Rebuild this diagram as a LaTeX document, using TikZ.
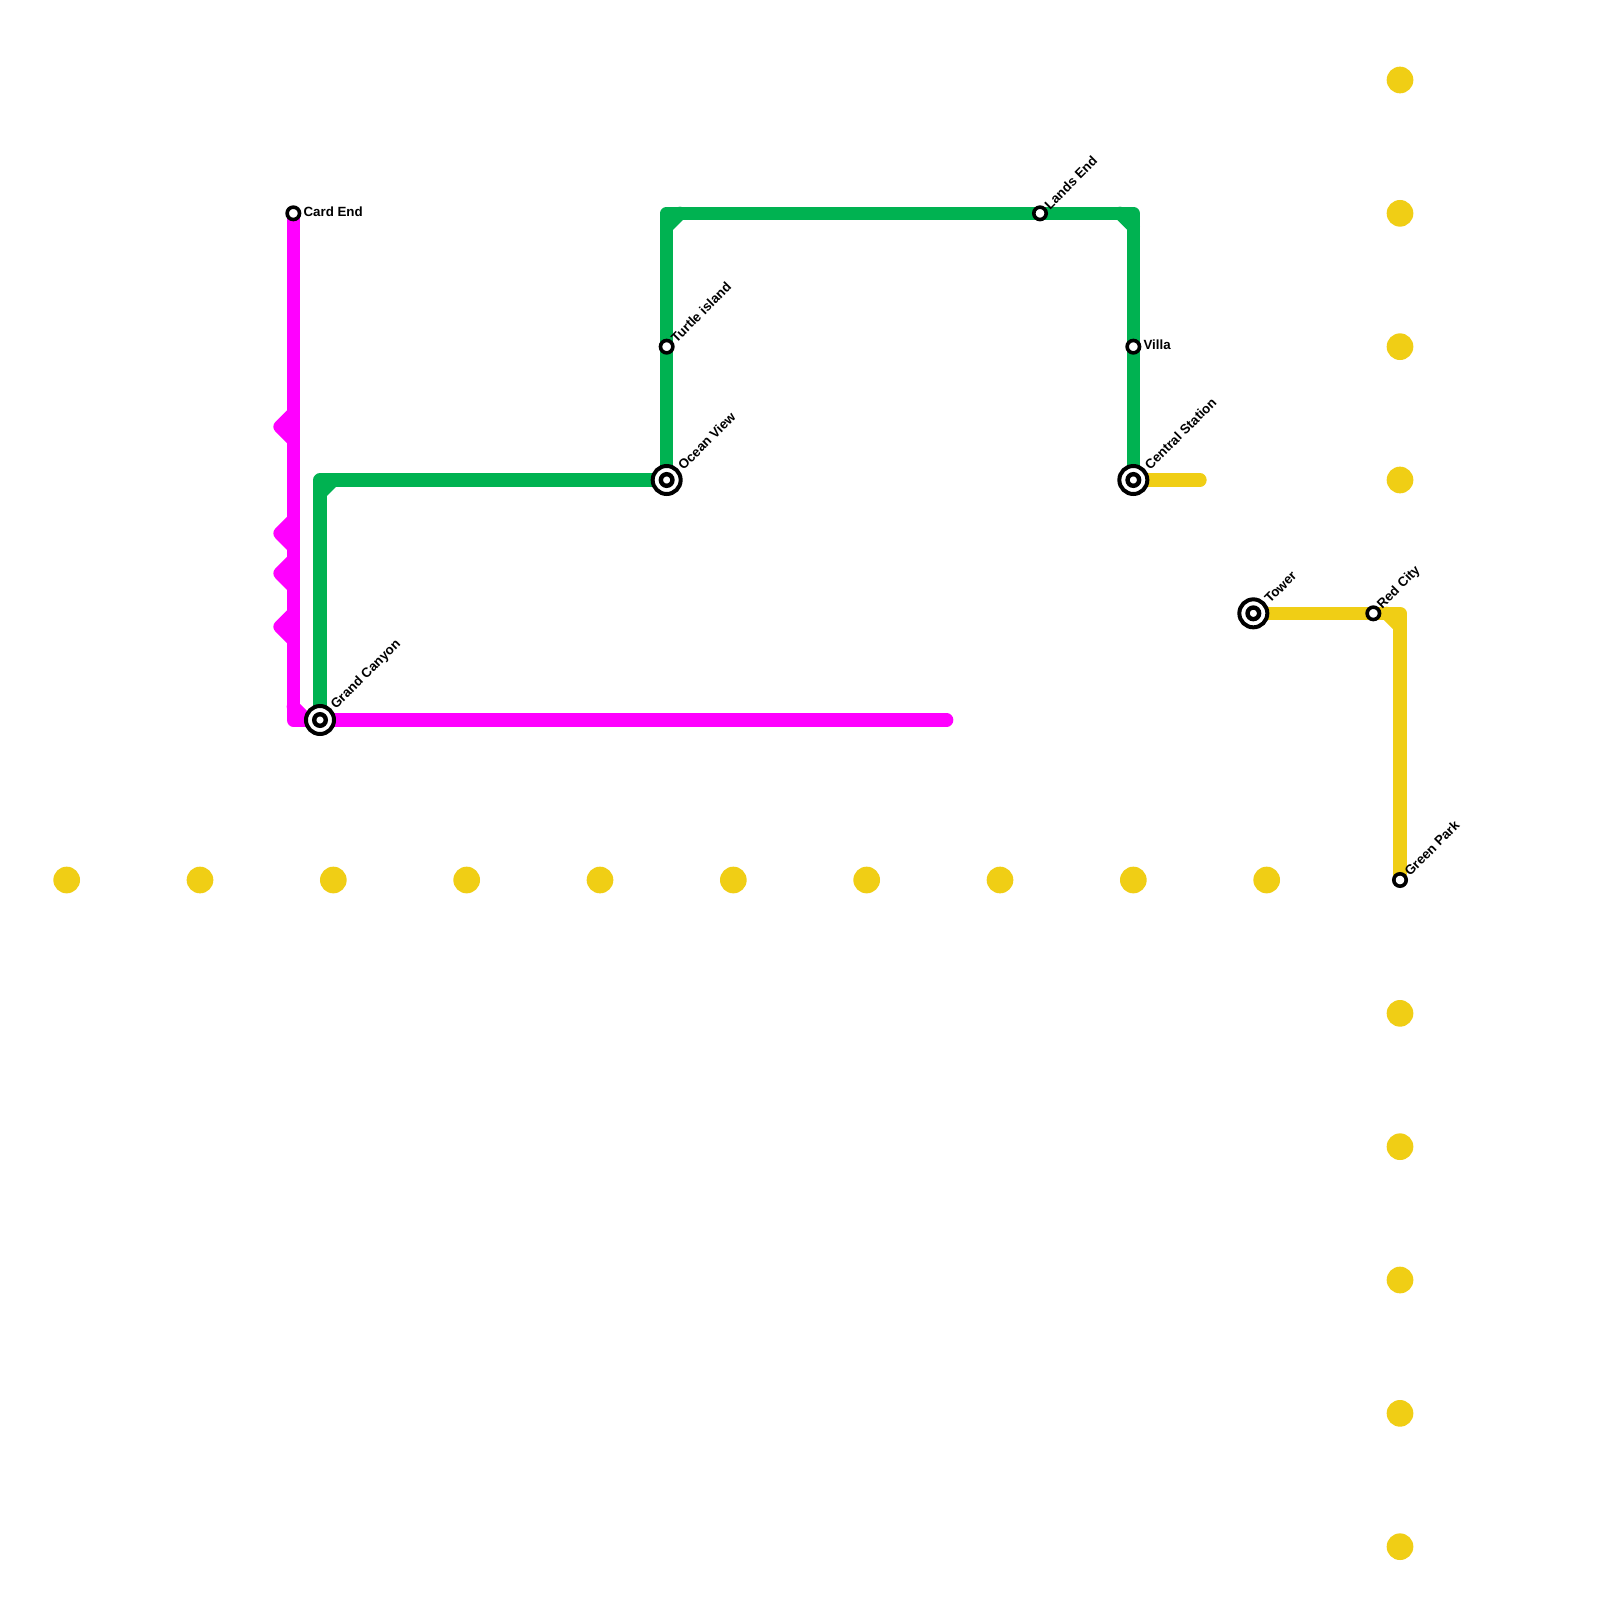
\documentclass[tikz,border=0pt]{standalone}
\usepackage{fontspec}
\setmainfont{Liberation Sans}
\definecolor{mag}{HTML}{FF00FF}
\definecolor{grn}{HTML}{00B251}
\definecolor{yel}{HTML}{F0CE15}
\tikzset{
  x=1pt,y=-1pt,
  route/.style={line width=13.33pt,line cap=round,line join=round},
  dotmark/.style={circle,fill=yel,draw=none,minimum size=26.67pt,inner sep=0pt,outer sep=0pt},
  smallstn/.style={circle,fill=white,draw=black,line width=3.6pt,minimum size=12.4pt,inner sep=0pt,outer sep=0pt},
  bigstn/.style={circle,fill=white,draw=black,line width=4pt,minimum size=28pt,inner sep=0pt,outer sep=0pt},
  bighole/.style={circle,fill=white,draw=black,line width=4.4pt,minimum size=11.6pt,inner sep=0pt,outer sep=0pt},
  lab/.style={font=\bfseries\fontsize{13.33}{13.33}\selectfont,text=black,inner sep=0pt,anchor=west},
  labflat/.style={lab,xshift=10pt,yshift=1.5pt},
  labsmall/.style={lab,xshift=6.5pt,yshift=6.5pt,rotate=45},
  labbig/.style={lab,xshift=13.5pt,yshift=12.5pt,rotate=45}
}
\begin{document}
\begin{tikzpicture}
\useasboundingbox (0,0) rectangle (1600,1600);
\fill[white] (0,0) rectangle (1600,1600);
% background dots
\foreach \n/\px in {a/66.67,b/200,c/333.33,d/466.67,e/600,f/733.33,g/866.67,h/1000,i/1133.33,j/1266.67}
  \node[dotmark] (dh\n) at (\px,880) {};
\foreach \n/\py in {a/80,b/213.33,c/346.67,d/480,e/1013.33,f/1146.67,g/1280,h/1413.33,i/1546.67}
  \node[dotmark] (dv\n) at (1400,\py) {};
% coordinates
\coordinate (cardend) at (293.33,213.33);
\coordinate (grand) at (320,720);
\coordinate (ocean) at (666.67,480);
\coordinate (turtle) at (666.67,346.67);
\coordinate (lands) at (1040,213.33);
\coordinate (villa) at (1133.33,346.67);
\coordinate (central) at (1133.33,480);
\coordinate (tower) at (1253.33,613.33);
\coordinate (red) at (1373.33,613.33);
\coordinate (green) at (1400,880);
\coordinate (mc) at (293.33,720);
\coordinate (mca) at (293.33,706.67);
\coordinate (mcb) at (306.67,720);
\coordinate (mend) at (946.67,720);
\coordinate (gc1) at (320,480);
\coordinate (gc1a) at (320,493.33);
\coordinate (gc1b) at (333.33,480);
\coordinate (gc2) at (666.67,213.33);
\coordinate (gc2a) at (666.67,226.67);
\coordinate (gc2b) at (680,213.33);
\coordinate (gc3) at (1133.33,213.33);
\coordinate (gc3a) at (1120,213.33);
\coordinate (gc3b) at (1133.33,226.67);
\coordinate (yc) at (1400,613.33);
\coordinate (yca) at (1386.67,613.33);
\coordinate (ycb) at (1400,626.67);
\coordinate (yend) at (1200,480);
% green
\draw[route,grn] (grand) -- (gc1) -- (ocean);
\draw[route,grn] (gc1a) -- (gc1b);
\draw[route,grn] (ocean) -- (turtle) -- (gc2) -- (lands) -- (gc3) -- (villa) -- (central);
\draw[route,grn] (gc2a) -- (gc2b);
\draw[route,grn] (gc3a) -- (gc3b);
% yellow
\draw[route,yel] (central) -- (yend);
\draw[route,yel] (tower) -- (red) -- (yc) -- (green);
\draw[route,yel] (yca) -- (ycb);
% magenta
\draw[route,mag] (cardend) -- (mc) -- (mend);
\draw[route,mag] (mca) -- (mcb);
\foreach \n/\py in {1/426.67,2/533.33,3/573.33,4/626.67}{
  \coordinate (bt\n) at (293.33,\py-13.33);
  \coordinate (bm\n) at (280,\py);
  \coordinate (bb\n) at (293.33,\py+13.33);
  \draw[route,mag] (bt\n) -- (bm\n) -- (bb\n);
}
% stations
\node[smallstn] (scard) at (cardend) {};
\node[smallstn] (sturtle) at (turtle) {};
\node[smallstn] (slands) at (lands) {};
\node[smallstn] (svilla) at (villa) {};
\node[smallstn] (sred) at (red) {};
\node[smallstn] (sgreen) at (green) {};
\foreach \s in {grand,ocean,central,tower}{
  \node[bigstn] (o\s) at (\s) {};
  \node[bighole] (i\s) at (\s) {};
}
% labels
\node[labflat] (lcard) at (cardend) {Card End};
\node[labflat] (lvilla) at (villa) {Villa};
\node[labsmall] (lturtle) at (turtle) {Turtle island};
\node[labsmall] (llands) at (lands) {Lands End};
\node[labsmall] (lred) at (red) {Red City};
\node[labsmall] (lgreen) at (green) {Green Park};
\node[labbig] (lgrand) at (grand) {Grand Canyon};
\node[labbig] (locean) at (ocean) {Ocean View};
\node[labbig] (lcentral) at (central) {Central Station};
\node[labbig] (ltower) at (tower) {Tower};
\end{tikzpicture}
\end{document}
